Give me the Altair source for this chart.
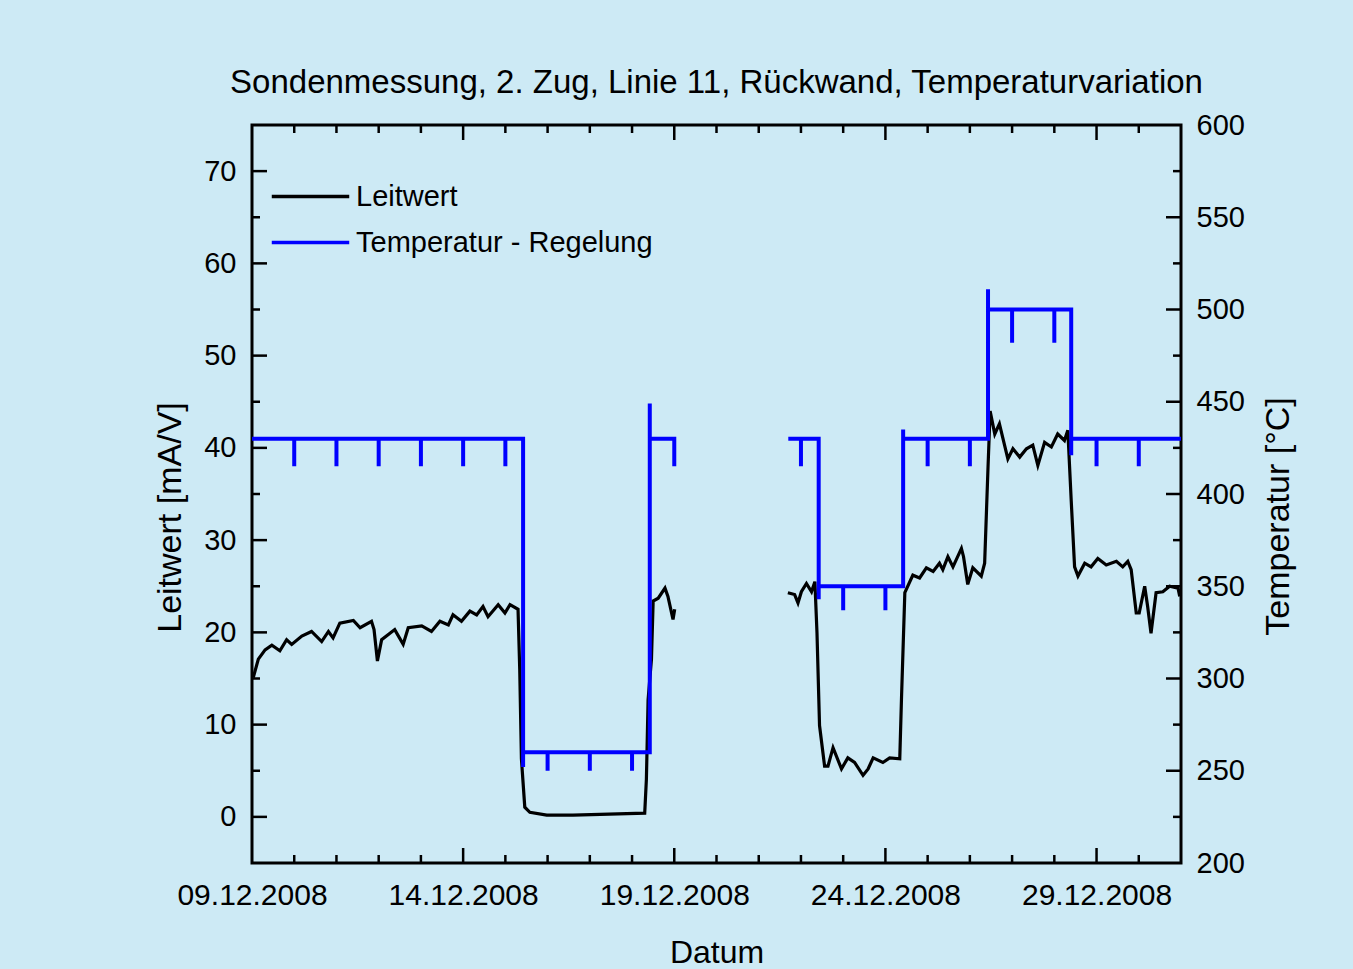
import altair as alt
import pandas as pd

# ---------------- data ----------------
title_text = "Sondenmessung, 2. Zug, Linie 11, Rückwand, Temperaturvariation"
series_names = ["Leitwert", "Temperatur - Regelung"]
series_colors = ["#000000", "#0000ff"]

# Leitwert (left axis), days after 09.12.2008 00:00
lw1_days = [0.03, 0.15, 0.31, 0.47, 0.66, 0.82, 0.94, 1.18, 1.41, 1.65, 1.81, 1.92, 2.08, 2.40, 2.56,
            2.83, 2.89, 2.97, 3.07, 3.38, 3.58, 3.70, 4.02, 4.25, 4.45, 4.65, 4.76, 4.96, 5.16, 5.32,
            5.47, 5.59, 5.83, 5.99, 6.11, 6.30, 6.34, 6.38, 6.46, 6.58, 6.98, 7.60, 9.30, 9.34, 9.38,
            9.46, 9.50, 9.62, 9.78, 9.85, 9.97, 10.01]
lw1_vals = [15.1, 17.1, 18.1, 18.6, 18.0, 19.2, 18.7, 19.6, 20.1, 19.0, 20.1, 19.4, 21.0, 21.3, 20.5,
            21.2, 20.3, 16.9, 19.2, 20.3, 18.7, 20.5, 20.7, 20.1, 21.2, 20.8, 21.9, 21.2, 22.3, 21.9,
            22.8, 21.7, 23.0, 22.1, 23.0, 22.5, 16.0, 6.3, 1.05, 0.5, 0.2, 0.2, 0.4, 4.1, 12.7,
            17.1, 23.4, 23.7, 24.8, 23.9, 21.4, 22.5]
lw2_days = [12.69, 12.85, 12.93, 13.01, 13.13, 13.25, 13.33, 13.38, 13.44, 13.56, 13.64, 13.76, 13.96,
            14.11, 14.27, 14.47, 14.59, 14.71, 14.94, 15.10, 15.34, 15.38, 15.46, 15.65, 15.81, 15.97,
            16.13, 16.28, 16.36, 16.48, 16.60, 16.80, 16.85, 16.95, 17.07, 17.27, 17.35, 17.43, 17.48,
            17.59, 17.70, 17.90, 18.02, 18.18, 18.34, 18.49, 18.61, 18.77, 18.93, 19.08, 19.24, 19.32,
            19.40, 19.48, 19.56, 19.72, 19.87, 20.03, 20.23, 20.47, 20.62, 20.74, 20.82, 20.94, 21.01,
            21.14, 21.21, 21.29, 21.41, 21.57, 21.73, 21.93, 21.97]
lw2_vals = [24.3, 24.1, 23.2, 24.4, 25.3, 24.4, 25.5, 19.9, 9.9, 5.5, 5.5, 7.5, 5.2,
            6.4, 5.9, 4.5, 5.2, 6.4, 5.9, 6.4, 6.3, 12.7, 24.3, 26.2, 25.9, 27.0,
            26.6, 27.5, 26.8, 28.2, 27.1, 29.1, 28.2, 25.2, 27.0, 26.1, 27.5, 37.9, 44.0,
            41.5, 42.6, 38.8, 39.9, 39.0, 39.9, 40.3, 38.1, 40.6, 40.1, 41.5, 40.8, 41.9,
            34.3, 27.1, 26.1, 27.5, 27.1, 28.0, 27.3, 27.7, 27.1, 27.7, 26.8, 22.1, 22.1,
            25.0, 22.8, 19.9, 24.3, 24.4, 25.0, 24.8, 23.9]

# Temperatur - Regelung (right axis)
tr1_days = [0, 1, 1, 1, 2, 2, 2, 3, 3, 3, 4, 4, 4, 5, 5, 5, 6, 6, 6, 6.42, 6.42, 6.42,
            7, 7, 7, 8, 8, 8, 9, 9, 9, 9.42, 9.42, 9.42, 10.0, 10.0]
tr1_vals = [430, 430, 415, 430, 430, 415, 430, 430, 415, 430, 430, 415, 430, 430, 415, 430, 430, 415, 430,
            430, 252, 260, 260, 250, 260, 260, 250, 260, 260, 250, 260, 260, 449, 430, 430, 415]
tr2_days = [12.70, 13, 13, 13, 13.42, 13.42, 13.42, 14, 14, 14, 15, 15, 15, 15.42, 15.42, 15.42,
            16, 16, 16, 17, 17, 17, 17.43, 17.43, 17.43, 18, 18, 18, 19, 19, 19, 19.40, 19.40, 19.40,
            20, 20, 20, 21, 21, 21, 22]
tr2_vals = [430, 430, 415, 430, 430, 343, 350, 350, 337, 350, 350, 337, 350, 350, 435, 430,
            430, 415, 430, 430, 415, 430, 430, 511, 500, 500, 482, 500, 500, 482, 500, 500, 421, 430,
            430, 415, 430, 430, 415, 430, 430]

# axes
left_labels = [0, 10, 20, 30, 40, 50, 60, 70]
left_minor = [5, 15, 25, 35, 45, 55, 65]
right_labels = [200, 250, 300, 350, 400, 450, 500, 550, 600]
right_major = [250, 300, 350, 400, 450, 500, 550]
right_minor = [225, 275, 325, 375, 425, 475, 525, 575]
x_label_days = [0, 5, 10, 15, 20]
x_major_days = [5, 10, 15, 20]
x_minor_days = [d for d in range(1, 22) if d % 5 != 0]

# ---------------- build ----------------
BASE = pd.Timestamp("2008-12-09")
W, H = 929, 738
FONT = "Liberation Sans"


def to_time(days):
    return [(BASE + pd.to_timedelta(d, unit="D")).strftime("%Y-%m-%dT%H:%M:%S") for d in days]


lw = pd.DataFrame({
    "t": to_time(lw1_days) + to_time(lw2_days),
    "v": lw1_vals + lw2_vals,
    "seg": ["a"] * len(lw1_days) + ["b"] * len(lw2_days),
    "series": series_names[0],
})
tr = pd.DataFrame({
    "t": to_time(tr1_days) + to_time(tr2_days),
    "v": tr1_vals + tr2_vals,
    "seg": ["a"] * len(tr1_days) + ["b"] * len(tr2_days),
    "series": series_names[1],
})

x_domain = [alt.DateTime(year=2008, month=12, date=9), alt.DateTime(year=2008, month=12, date=31)]
x_scale = alt.Scale(domain=x_domain, nice=False)
yl_scale = alt.Scale(domain=[-5, 75], nice=False, zero=False)
yr_scale = alt.Scale(domain=[200, 600], nice=False, zero=False)
color_scale = alt.Scale(domain=series_names, range=series_colors)

common = dict(ticks=False, domain=False, grid=False,
              labelFont=FONT, titleFont=FONT, labelColor="black", titleColor="black",
              titleFontWeight="normal")

x_axis = alt.Axis(
    title="Datum", format="%d.%m.%Y", orient="bottom",
    values=[alt.DateTime(year=2008, month=12, date=9 + d) for d in x_label_days],
    labelFontSize=30, titleFontSize=32, labelPadding=17, titlePadding=27, labelFlush=False, **common)
yl_axis = alt.Axis(title="Leitwert [mA/V]", values=left_labels, orient="left",
                   labelFontSize=29, titleFontSize=34, labelPadding=16, titleAngle=270,
                   titleX=-82, titleY=392, titleAlign="center", titleBaseline="middle", **common)
yr_axis = alt.Axis(title="Temperatur [°C]", values=right_labels, orient="right",
                   labelFontSize=29, titleFontSize=34, labelPadding=15, titleAngle=270,
                   titleX=97, titleY=391, titleAlign="center", titleBaseline="middle", **common)

X = alt.X("t:T", scale=x_scale, axis=x_axis)

legend = alt.Legend(
    title=None, orient="none", legendX=37, legendY=50, symbolType="M-2,0H2",
    symbolSize=1500, symbolStrokeWidth=3.5, labelFontSize=29, labelFont=FONT,
    labelColor="black", labelOffset=24, rowPadding=9, padding=0, labelLimit=0)

black = alt.Chart(lw).mark_line(strokeWidth=3.2, interpolate="linear").encode(
    x=X,
    y=alt.Y("v:Q", scale=yl_scale, axis=yl_axis),
    color=alt.Color("series:N", scale=color_scale, legend=legend),
    detail="seg:N",
)

blue = alt.Chart(tr).mark_line(strokeWidth=4, interpolate="linear").encode(
    x=X,
    y=alt.Y("v:Q", scale=yr_scale, axis=yr_axis),
    color=alt.Color("series:N", scale=color_scale, legend=legend),
    detail="seg:N",
)


def ytick(values, scale, axis, x0, x1):
    return alt.Chart(pd.DataFrame({"v": values})).mark_rule(color="black", strokeWidth=2.5).encode(
        y=alt.Y("v:Q", scale=scale, axis=axis), x=alt.value(x0), x2=alt.value(x1))


def xtick(days, y0, y1):
    return alt.Chart(pd.DataFrame({"t": to_time(days)})).mark_rule(color="black", strokeWidth=2.5).encode(
        x=X, y=alt.value(y0), y2=alt.value(y1))


left = alt.layer(
    black,
    ytick(left_labels, yl_scale, yl_axis, 0, 15),
    ytick(left_minor, yl_scale, yl_axis, 0, 8),
    xtick(x_major_days, H - 15, H),
    xtick(x_minor_days, H - 8, H),
    xtick(x_major_days, 0, 15),
    xtick(x_minor_days, 0, 8),
)
right = alt.layer(
    blue,
    ytick(right_major, yr_scale, yr_axis, W - 15, W),
    ytick(right_minor, yr_scale, yr_axis, W - 8, W),
)

chart = alt.layer(left, right).resolve_scale(y="independent").properties(
    width=W, height=H,
    title=alt.TitleParams(title_text, fontSize=33, font=FONT, fontWeight="normal",
                          color="black", offset=11, anchor="middle"),
    autosize=alt.AutoSizeParams(type="none"),
    padding={"left": 252, "top": 125, "right": 172, "bottom": 106},
    background="#cdeaf5",
).configure_view(stroke="black", strokeWidth=3, fill=None)

chart.save("out.html", embed_options={"renderer": "svg", "actions": False})
